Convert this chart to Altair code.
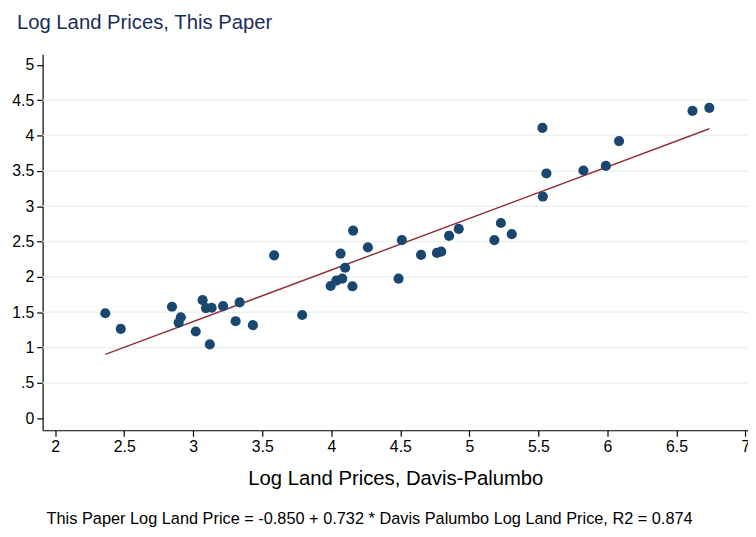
import altair as alt
import pandas as pd

# Data
dp_price = [2.363, 2.475, 2.846, 2.910, 2.894, 3.018, 3.068, 3.092, 3.133, 3.120,
            3.216, 3.307, 3.336, 3.432, 3.586, 3.789, 3.995, 4.036, 4.079, 4.067,
            4.100, 4.153, 4.158, 4.265, 4.487, 4.511, 4.650, 4.765, 4.796, 4.853,
            4.923, 5.181, 5.228, 5.307, 5.529, 5.558, 5.532, 5.826, 5.988, 6.084,
            6.616, 6.738]
tp_price = [1.485, 1.265, 1.577, 1.429, 1.353, 1.227, 1.671, 1.559, 1.563, 1.045,
            1.587, 1.373, 1.639, 1.317, 2.305, 1.461, 1.871, 1.947, 1.975, 2.329,
            2.129, 1.867, 2.655, 2.417, 1.975, 2.521, 2.311, 2.339, 2.357, 2.581,
            2.679, 2.521, 2.763, 2.605, 4.108, 3.464, 3.137, 3.506, 3.571, 3.922,
            4.350, 4.392]

x_ticks = [2, 2.5, 3, 3.5, 4, 4.5, 5, 5.5, 6, 6.5, 7]
y_ticks = [0, 0.5, 1, 1.5, 2, 2.5, 3, 3.5, 4, 4.5, 5]
y_grid = [0.5, 1, 1.5, 2, 2.5, 3, 3.5, 4, 4.5]

y_title = "Log Land Prices, This Paper"
x_title = "Log Land Prices, Davis-Palumbo"
note = "This Paper Log Land Price = -0.850 + 0.732 * Davis Palumbo Log Land Price, R2 = 0.874"

df = pd.DataFrame({"dp": dp_price, "tp": tp_price})
grid_df = pd.DataFrame({"g": y_grid})
note_df = pd.DataFrame({"t": [note]})

W, H = 713, 380
FONT = "Liberation Sans"

xscale = alt.Scale(domain=[1.909, 7.018], nice=False, zero=False)
yscale = alt.Scale(domain=[-0.17, 5.15], nice=False, zero=False)

xaxis = alt.Axis(values=x_ticks, title=x_title, grid=False, domain=True, format="~g",
                 domainColor="#000000", domainWidth=1.2, tickColor="#000000",
                 tickSize=6, tickWidth=1.2, labelFontSize=16, labelColor="#000000",
                 labelPadding=2, labelFont=FONT, titleFont=FONT, titleFontSize=20.5,
                 titleFontWeight="normal", titleColor="#000000", titlePadding=15,
                 labelFlush=False, labelOverlap=False)
yaxis = alt.Axis(values=y_ticks, title=None, grid=False, domain=True, format="~g",
                 domainColor="#000000", domainWidth=1.2, tickColor="#000000",
                 tickSize=6, tickWidth=1.2, labelFontSize=16, labelColor="#000000",
                 labelPadding=3, labelFont=FONT, labelFlush=False, labelOverlap=False,
                 labelExpr="datum.value == 0.5 ? '.5' : datum.label")

grid = alt.Chart(grid_df).mark_rule(color="#eaf2f3", strokeWidth=1.5).encode(
    y=alt.Y("g:Q", scale=yscale, axis=yaxis),
)

points = alt.Chart(df).mark_circle(size=105, opacity=1, color="#1a476f").encode(
    x=alt.X("dp:Q", scale=xscale, axis=xaxis),
    y=alt.Y("tp:Q", scale=yscale, axis=yaxis),
)

fit = alt.Chart(df).transform_regression("dp", "tp").mark_line(
    color="#90353b", strokeWidth=1.5
).encode(
    x=alt.X("dp:Q", scale=xscale, axis=xaxis),
    y=alt.Y("tp:Q", scale=yscale, axis=yaxis),
)

footnote = alt.Chart(note_df).mark_text(
    align="left", baseline="middle", fontSize=16.5, font=FONT, color="#000000"
).encode(
    x=alt.value(4),
    y=alt.value(H + 90),
    text="t:N",
)

chart = alt.layer(grid, fit, points, footnote).properties(
    width=W, height=H,
    title=alt.TitleParams(y_title, anchor="start", frame="group", fontSize=20.5, font=FONT,
                          fontWeight="normal", color="#1a2d5a", dx=-26, offset=21),
    autosize=alt.AutoSizeParams(type="none"),
    padding={"left": 35, "top": 44, "right": 0, "bottom": 95},
).configure_view(stroke=None)

chart.save("out.html", embed_options={"renderer": "svg", "actions": False})
